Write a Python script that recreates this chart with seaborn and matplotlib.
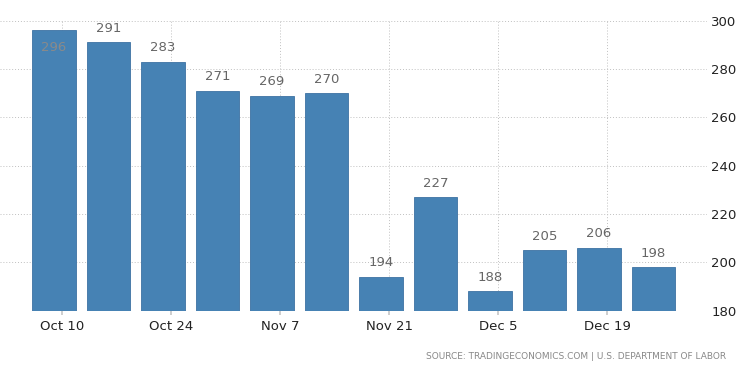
import numpy as np
import pandas as pd
import matplotlib
matplotlib.use("Agg")
import matplotlib.pyplot as plt
import seaborn as sns

weeks = ["Oct 10", "Oct 17", "Oct 24", "Oct 31", "Nov 7", "Nov 14",
         "Nov 21", "Nov 28", "Dec 5", "Dec 12", "Dec 19", "Dec 26"]
claims = [296, 291, 283, 271, 269, 270, 194, 227, 188, 205, 206, 198]
tick_labels = ["Oct 10", "Oct 24", "Nov 7", "Nov 21", "Dec 5", "Dec 19"]
y_ticks = [180, 200, 220, 240, 260, 280, 300]

sns.set_theme(style="white")
plt.rcParams["font.family"] = ["DejaVu Sans"]

df = pd.DataFrame({"week": weeks, "claims": claims})

fig = plt.figure(figsize=(7.5, 3.73), dpi=100)
ax = fig.add_axes([0.0, 0.167, 0.9427, 0.7775])

sns.barplot(data=df, x="week", y="claims", color="#4682b4", saturation=1,
            width=0.8, edgecolor="#3d72a3", linewidth=0.6, ax=ax, zorder=3)

ax.set_ylim(180, 300)
ax.set_xlim(-0.99, 11.98)

# date ticks sit a little right of the bar centres
tick_pos = [weeks.index(t) + 0.147 for t in tick_labels]
ax.set_xticks(tick_pos)
ax.set_xticklabels(tick_labels)
ax.set_yticks(y_ticks)
ax.yaxis.tick_right()

ax.grid(True, axis="both", linestyle=(0, (1, 2)), color="#c0c0c0",
        linewidth=0.7, zorder=0)
for s in ax.spines.values():
    s.set_visible(False)

ax.tick_params(axis="x", length=3, color="#c8c8c8", pad=4,
               labelsize=9.5, labelcolor="#222222", bottom=True)
ax.tick_params(axis="y", length=0, pad=3, labelsize=9.5,
               labelcolor="#222222", right=False, left=False)
ax.set_xlabel("")
ax.set_ylabel("")

for patch, val in zip(ax.patches, claims):
    x = patch.get_x() + patch.get_width() / 2
    if val > 293:
        ax.annotate(str(val), (x, val), xytext=(0, -12), textcoords="offset points",
                    ha="center", va="center", fontsize=9.5, color="#8a8a8a", zorder=4)
    else:
        ax.annotate(str(val), (x, val), xytext=(0, 10), textcoords="offset points",
                    ha="center", va="center", fontsize=9.5, color="#666666", zorder=4)

fig.text(0.968, 0.043, "SOURCE: TRADINGECONOMICS.COM | U.S. DEPARTMENT OF LABOR",
         ha="right", va="center", fontsize=6.5, color="#888888")

fig.savefig("out.png", dpi=100)
